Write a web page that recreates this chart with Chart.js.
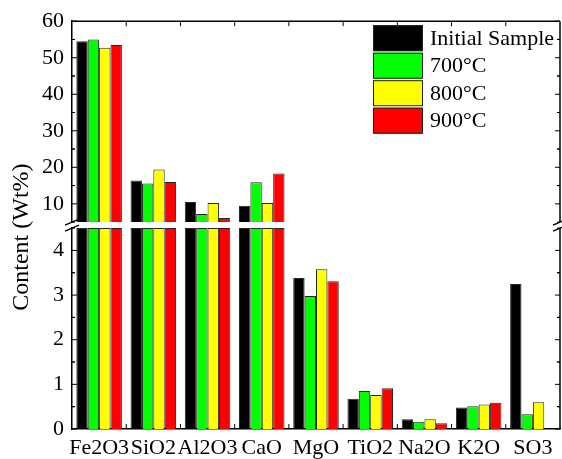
<!DOCTYPE html>
<html lang="en">
  <head>
    <meta charset="UTF-8" />
    <title>Content</title>
    <script src="https://cdn.jsdelivr.net/npm/chart.js@4.4.1/dist/chart.umd.min.js"></script>
    <style>
      html, body { margin: 0; padding: 0; background: #fff; }
      .chart-view { width: 562px; height: 459px; position: relative; }
    </style>
  </head>
  <body>
    <div class="chart-view"><canvas id="chart"></canvas></div>

    <script>
      //data
      const labels = ['Fe2O3', 'SiO2', 'Al2O3', 'CaO', 'MgO', 'TiO2', 'Na2O', 'K2O', 'SO3'];
      const initialSample = [54.5, 16.4, 10.5, 9.5, 3.38, 0.68, 0.22, 0.48, 3.25];
      const t700 = [55.0, 15.6, 7.2, 15.9, 2.98, 0.85, 0.16, 0.51, 0.33];
      const t800 = [52.7, 19.4, 10.2, 10.2, 3.58, 0.76, 0.22, 0.55, 0.6];
      const t900 = [53.5, 16.0, 6.1, 18.3, 3.31, 0.91, 0.13, 0.59, null];
      const seriesNames = ['Initial Sample', '700°C', '800°C', '900°C'];
      const seriesColors = ['#000000', '#00ff00', '#ffff00', '#ff0000'];
      const lowTicks = [0, 1, 2, 3, 4];
      const highTicks = [10, 20, 30, 40, 50, 60];
      const LOW_MAX = 4.5;
      const HIGH_MIN = 5;
      const HIGH_MAX = 60;

      const FONT = 'Liberation Serif';

      // each series is drawn twice: once on the lower axis, once on the upper one
      const series = [initialSample, t700, t800, t900];
      const datasets = [];
      series.forEach((values, i) => {
        datasets.push({
          label: seriesNames[i],
          data: values.map((v) => (v == null ? null : Math.min(v, LOW_MAX))),
          backgroundColor: seriesColors[i],
          borderColor: 'rgba(0,0,0,0.85)',
          borderWidth: 1,
          borderSkipped: 'bottom',
          stack: 's' + i,
          yAxisID: 'yLow'
        });
        datasets.push({
          label: seriesNames[i],
          data: values.map((v) => (v != null && v > HIGH_MIN ? v : null)),
          backgroundColor: seriesColors[i],
          borderColor: 'rgba(0,0,0,0.85)',
          borderWidth: 1,
          borderSkipped: 'bottom',
          stack: 's' + i,
          yAxisID: 'yHigh'
        });
      });

      const keepTicks = (list) => (scale) => {
        scale.ticks = list.map((v) => ({ value: v }));
      };

      //frame, inward ticks, axis breaks, legend and title
      const framePlugin = {
        id: 'frame',
        afterDraw(chart) {
          const { ctx, chartArea } = chart;
          const { left, right, top, bottom } = chartArea;
          const hi = chart.scales.yHigh;
          const lo = chart.scales.yLow;
          const x = chart.scales.x;
          ctx.save();
          ctx.strokeStyle = '#000';
          ctx.lineWidth = 1.5;

          // top and right border
          ctx.beginPath();
          ctx.moveTo(left, top);
          ctx.lineTo(right, top);
          ctx.moveTo(right, top);
          ctx.lineTo(right, hi.bottom);
          ctx.moveTo(right, lo.top);
          ctx.lineTo(right, bottom);
          ctx.stroke();

          // y ticks, inward on both sides
          ctx.lineWidth = 1;
          const yTicks = (scale, majors) => {
            ctx.beginPath();
            majors.forEach((v, k) => {
              const p = scale.getPixelForValue(v);
              ctx.moveTo(left, p); ctx.lineTo(left + 5, p);
              ctx.moveTo(right, p); ctx.lineTo(right - 5, p);
              const step = majors[1] - majors[0];
              [v - step / 2, v + step / 2].forEach((mv) => {
                const m = scale.getPixelForValue(mv);
                if (m >= scale.top - 0.5 && m <= scale.bottom + 0.5) {
                  ctx.moveTo(left, m); ctx.lineTo(left + 3, m);
                  ctx.moveTo(right, m); ctx.lineTo(right - 3, m);
                }
              });
            });
            ctx.stroke();
          };
          yTicks(hi, highTicks);
          yTicks(lo, lowTicks);

          // category boundary ticks, top and bottom
          ctx.beginPath();
          for (let i = 1; i < labels.length; i++) {
            const p = (x.getPixelForValue(i - 1) + x.getPixelForValue(i)) / 2;
            ctx.moveTo(p, bottom); ctx.lineTo(p, bottom - 5);
            ctx.moveTo(p, top); ctx.lineTo(p, top + 5);
          }
          ctx.stroke();

          // break marks
          ctx.lineWidth = 1.3;
          [left, right].forEach((bx) => {
            ctx.beginPath();
            ctx.moveTo(bx - 7, hi.bottom + 3); ctx.lineTo(bx + 7, hi.bottom - 3);
            ctx.moveTo(bx - 7, lo.top + 3); ctx.lineTo(bx + 7, lo.top - 3);
            ctx.stroke();
          });

          // legend
          const lx = right - 187;
          let ly = top + 4;
          ctx.font = '22px "' + FONT + '"';
          ctx.textBaseline = 'middle';
          ctx.textAlign = 'left';
          ctx.lineWidth = 1;
          seriesNames.forEach((name, i) => {
            ctx.fillStyle = seriesColors[i];
            ctx.fillRect(lx, ly, 50, 26);
            ctx.strokeStyle = '#222';
            ctx.strokeRect(lx + 0.5, ly + 0.5, 49, 25);
            ctx.fillStyle = '#000';
            ctx.fillText(name, lx + 57, ly + 14);
            ly += 27.5;
          });

          // y title
          ctx.translate(22, (top + bottom) / 2 + 12);
          ctx.rotate(-Math.PI / 2);
          ctx.textAlign = 'center';
          ctx.font = '24px "' + FONT + '"';
          ctx.fillText('Content (Wt%)', 0, 0);
          ctx.restore();
        }
      };

      const yCommon = {
        type: 'linear',
        position: 'left',
        stack: 'v',
        stacked: false,
        grid: { display: false, drawTicks: false },
        border: { display: true, color: '#000', width: 1.5 },
        ticks: { color: '#000', padding: 8, autoSkip: false, font: { family: FONT, size: 22 } },
        afterFit: (scale) => { scale.width = 72; }
      };

      //config
      const config = {
        type: 'bar',
        data: { labels: labels, datasets: datasets },
        options: {
          responsive: true,
          maintainAspectRatio: false,
          devicePixelRatio: 1,
          animation: false,
          categoryPercentage: 0.84,
          barPercentage: 1.0,
          layout: { padding: { top: 21, right: 2, bottom: 0, left: 0 } },
          plugins: {
            legend: { display: false },
            tooltip: { enabled: false }
          },
          scales: {
            x: {
              stacked: true,
              grid: { display: false, drawTicks: false },
              border: { display: true, color: '#000', width: 1.5 },
              ticks: { color: '#000', padding: 6, maxRotation: 0, autoSkip: false, font: { family: FONT, size: 22 } },
              afterFit: (scale) => { scale.height = 30; }
            },
            // listed bottom first: Chart.js places the last one on top
            yLow: Object.assign({}, yCommon, {
              min: 0, max: LOW_MAX, stackWeight: 201,
              afterBuildTicks: keepTicks(lowTicks)
            }),
            yGap: {
              type: 'linear',
              position: 'left',
              stack: 'v',
              stackWeight: 6,
              display: false
            },
            yHigh: Object.assign({}, yCommon, {
              min: HIGH_MIN, max: HIGH_MAX, stackWeight: 201,
              afterBuildTicks: keepTicks(highTicks)
            })
          }
        },
        plugins: [framePlugin]
      };

      //init
      const ctx = document.getElementById('chart');
      const chart = new Chart(ctx, config);
    </script>
  </body>
</html>
